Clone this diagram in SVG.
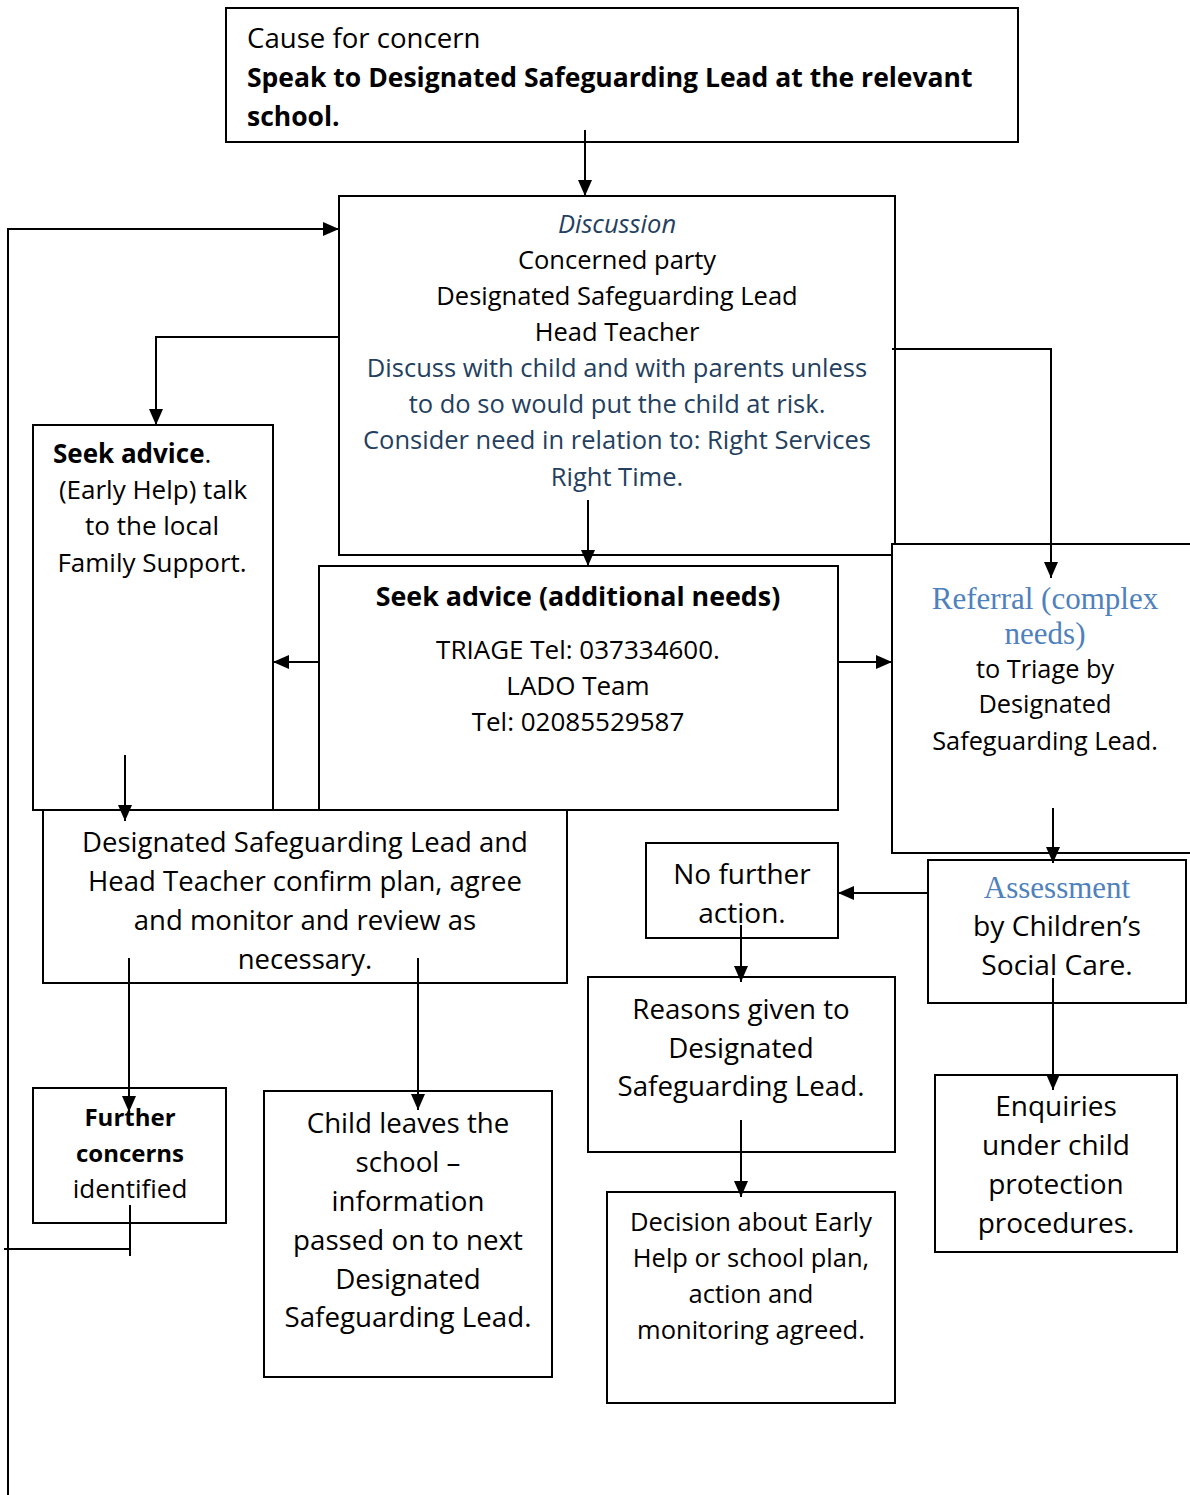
<svg xmlns="http://www.w3.org/2000/svg" width="1190" height="1495" viewBox="0 0 1190 1495">
<style>
.box{fill:#fff;stroke:#000;stroke-width:2}
.t{font-family:"Open Sans","Noto Sans",sans-serif;font-size:26px;fill:#000}
.c{text-anchor:middle}
.b{font-weight:bold}
.dk{fill:#243F60}
.lb{fill:#4F81BD;font-family:"Liberation Serif",serif}
.ln{fill:none;stroke:#000;stroke-width:2}
</style>
<defs>
<marker id="a" viewBox="0 0 16 14" refX="16" refY="7" markerWidth="16" markerHeight="14" orient="auto" markerUnits="userSpaceOnUse">
<path d="M0,0 L16,7 L0,14 z" fill="#000"/>
</marker>
</defs>
<rect width="1190" height="1495" fill="#fff"/>

<g id="cause">
<rect class="box" x="226" y="8" width="792" height="134"/>
<text class="t" x="247" y="48" style="font-size:27.6px">Cause for concern</text>
<text class="t b" x="247" y="87" style="font-size:26.5px">Speak to Designated Safeguarding Lead at the relevant</text>
<text class="t b" x="247" y="126" style="font-size:26.5px">school.</text>
</g>

<g id="discussion" style="font-size:25.5px">
<rect class="box" x="339" y="196" width="556" height="359"/>
<text class="t c dk" x="617" y="233" font-style="italic" style="font-size:25.5px">Discussion</text>
<text class="t c" x="617" y="269" style="font-size:25.5px">Concerned party</text>
<text class="t c" x="617" y="305" style="font-size:25.5px">Designated Safeguarding Lead</text>
<text class="t c" x="617" y="341" style="font-size:25.5px">Head Teacher</text>
<text class="t c dk" x="617" y="377" style="font-size:25.5px">Discuss with child and with parents unless</text>
<text class="t c dk" x="617" y="413" style="font-size:25.5px">to do so would put the child at risk.</text>
<text class="t c dk" x="617" y="449" style="font-size:25.5px">Consider need in relation to: Right Services</text>
<text class="t c dk" x="617" y="486" style="font-size:25.5px">Right Time.</text>
</g>

<g id="seek-advice-early">
<rect class="box" x="33" y="425" width="240" height="385"/>
<text class="t" x="53" y="463"><tspan class="b">Seek advice</tspan>.</text>
<text class="t c" x="153" y="499">(Early Help) talk</text>
<text class="t c" x="152" y="535">to the local</text>
<text class="t c" x="152" y="572">Family Support.</text>
</g>

<g id="seek-advice-additional">
<rect class="box" x="319" y="566" width="519" height="244"/>
<text class="t c b" x="578" y="606" style="font-size:26.8px">Seek advice (additional needs)</text>
<text class="t c" x="578" y="659">TRIAGE Tel: 037334600.</text>
<text class="t c" x="578" y="695">LADO Team</text>
<text class="t c" x="578" y="731">Tel: 02085529587</text>
</g>

<g id="referral">
<rect class="box" x="892" y="544" width="310" height="309"/>
<text class="t c lb" x="1045" y="609" style="font-size:31px">Referral (complex</text>
<text class="t c lb" x="1045" y="644" style="font-size:31px">needs)</text>
<text class="t c" x="1045" y="678" style="font-size:25.3px">to Triage by</text>
<text class="t c" x="1045" y="713" style="font-size:25.3px">Designated</text>
<text class="t c" x="1045" y="750" style="font-size:25.3px">Safeguarding Lead.</text>
</g>

<g id="dsl-confirm">
<rect class="box" x="43" y="810" width="524" height="173"/>
<text class="t c" x="305" y="852" style="font-size:27.5px">Designated Safeguarding Lead and</text>
<text class="t c" x="305" y="891" style="font-size:27.5px">Head Teacher confirm plan, agree</text>
<text class="t c" x="305" y="930" style="font-size:27.5px">and monitor and review as</text>
<text class="t c" x="305" y="969" style="font-size:27.5px">necessary.</text>
</g>

<g id="no-further-action">
<rect class="box" x="646" y="843" width="192" height="95"/>
<text class="t c" x="742" y="884" style="font-size:28px">No further</text>
<text class="t c" x="742" y="923" style="font-size:28px">action.</text>
</g>

<g id="assessment">
<rect class="box" x="928" y="860" width="258" height="143"/>
<text class="t c lb" x="1057" y="898" style="font-size:31px">Assessment</text>
<text class="t c" x="1057" y="936" style="font-size:28.2px">by Children’s</text>
<text class="t c" x="1057" y="975" style="font-size:28.2px">Social Care.</text>
</g>

<g id="reasons">
<rect class="box" x="588" y="977" width="307" height="175"/>
<text class="t c" x="741" y="1019" style="font-size:27.7px">Reasons given to</text>
<text class="t c" x="741" y="1058" style="font-size:27.7px">Designated</text>
<text class="t c" x="741" y="1096" style="font-size:27.7px">Safeguarding Lead.</text>
</g>

<g id="decision">
<rect class="box" x="607" y="1192" width="288" height="211"/>
<text class="t c" x="751" y="1231" style="font-size:25.5px">Decision about Early</text>
<text class="t c" x="751" y="1267" style="font-size:25.5px">Help or school plan,</text>
<text class="t c" x="751" y="1303" style="font-size:25.5px">action and</text>
<text class="t c" x="751" y="1339" style="font-size:25.5px">monitoring agreed.</text>
</g>

<g id="enquiries">
<rect class="box" x="935" y="1075" width="242" height="177"/>
<text class="t c" x="1056" y="1116" style="font-size:28px">Enquiries</text>
<text class="t c" x="1056" y="1155" style="font-size:28px">under child</text>
<text class="t c" x="1056" y="1194" style="font-size:28px">protection</text>
<text class="t c" x="1056" y="1233" style="font-size:28px">procedures.</text>
</g>

<g id="further-concerns">
<rect class="box" x="33" y="1088" width="193" height="135"/>
<text class="t c b" x="130" y="1126" style="font-size:24px">Further</text>
<text class="t c b" x="130" y="1162" style="font-size:24px">concerns</text>
<text class="t c" x="130" y="1198">identified</text>
</g>

<g id="child-leaves">
<rect class="box" x="264" y="1091" width="288" height="286"/>
<text class="t c" x="408" y="1133" style="font-size:27.7px">Child leaves the</text>
<text class="t c" x="408" y="1172" style="font-size:27.7px">school –</text>
<text class="t c" x="408" y="1211" style="font-size:27.7px">information</text>
<text class="t c" x="408" y="1250" style="font-size:27.7px">passed on to next</text>
<text class="t c" x="408" y="1289" style="font-size:27.7px">Designated</text>
<text class="t c" x="408" y="1327" style="font-size:27.7px">Safeguarding Lead.</text>
</g>

<g id="connectors">
<path class="ln" d="M585,130 V196" marker-end="url(#a)"/>
<path class="ln" d="M130,1205 V1256 M130,1249 H4"/>
<path class="ln" d="M8,1495 V229 H339" marker-end="url(#a)"/>
<path class="ln" d="M339,337 H156 V425" marker-end="url(#a)"/>
<path class="ln" d="M892,349 H1051 V578" marker-end="url(#a)"/>
<path class="ln" d="M588,500 V566" marker-end="url(#a)"/>
<path class="ln" d="M319,662 H273" marker-end="url(#a)"/>
<path class="ln" d="M838,662 H892" marker-end="url(#a)"/>
<path class="ln" d="M125,755 V821" marker-end="url(#a)"/>
<path class="ln" d="M129,958 V1112" marker-end="url(#a)"/>
<path class="ln" d="M418,958 V1110" marker-end="url(#a)"/>
<path class="ln" d="M1053,808 V863" marker-end="url(#a)"/>
<path class="ln" d="M928,893 H838" marker-end="url(#a)"/>
<path class="ln" d="M741,925 V982" marker-end="url(#a)"/>
<path class="ln" d="M741,1120 V1197" marker-end="url(#a)"/>
<path class="ln" d="M1053,978 V1090" marker-end="url(#a)"/>
</g>
</svg>
